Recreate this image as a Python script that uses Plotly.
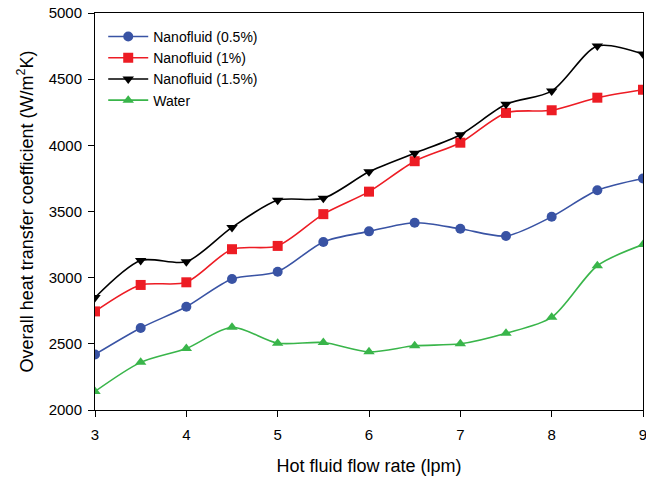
import plotly.graph_objects as go

flow = [3, 3.5, 4, 4.5, 5, 5.5, 6, 6.5, 7, 7.5, 8, 8.5, 9]
nano_05 = [2420, 2620, 2780, 2990, 3045, 3270, 3350, 3415, 3370, 3315, 3460, 3660, 3750]
nano_1 = [2745, 2945, 2965, 3215, 3240, 3480, 3650, 3880, 4020, 4245, 4265, 4360, 4420]
nano_15 = [2850, 3130, 3120, 3380, 3585, 3600, 3800, 3940, 4080, 4310, 4410, 4750, 4690]
water = [2140, 2360, 2465, 2625, 2505, 2510, 2440, 2485, 2500, 2580, 2700, 3090, 3250]

series = [
    ("Nanofluid (0.5%)", nano_05, "#3953a4", "circle"),
    ("Nanofluid (1%)", nano_1, "#ed1c24", "square"),
    ("Nanofluid (1.5%)", nano_15, "#000000", "triangle-down"),
    ("Water", water, "#39b54a", "triangle-up"),
]

fig = go.Figure()
for name, ys, col, sym in series:
    fig.add_trace(go.Scatter(
        x=flow, y=ys, name=name, mode="lines+markers",
        line=dict(color=col, width=1.6, shape="spline", smoothing=0.8),
        marker=dict(color=col, symbol=sym, size=10),
    ))

fig.update_layout(
    width=646, height=477,
    margin=dict(l=95, r=3, t=13, b=67),
    plot_bgcolor="white", paper_bgcolor="white",
    font=dict(family="Liberation Sans, Arial, sans-serif", size=15, color="black"),
    showlegend=True,
    legend=dict(x=0.015, y=0.98, xanchor="left", yanchor="top",
                bgcolor="rgba(0,0,0,0)", font=dict(size=14),
                tracegroupgap=0, itemwidth=40),
)
fig.update_xaxes(
    range=[3, 9], dtick=1, tick0=3, showgrid=False, zeroline=False,
    showline=True, linecolor="black", linewidth=1, mirror=True,
    ticks="outside", ticklen=6, tickcolor="black", ticklabelstandoff=5,
    automargin=False, ticklabeloverflow="allow",
    title=dict(text="Hot fluid flow rate (lpm)", font=dict(size=18), standoff=17),
)
fig.update_yaxes(
    range=[2000, 5000], dtick=500, showgrid=False, zeroline=False,
    showline=True, linecolor="black", linewidth=1, mirror=True,
    ticks="outside", ticklen=6, tickcolor="black", ticklabelstandoff=3,
    automargin=False, ticklabeloverflow="allow",
    title=dict(text="Overall heat transfer coefficient (W/m<sup>2</sup>K)", font=dict(size=18), standoff=10),
)

fig.write_html(
    "out.html",
    config={"displayModeBar": False},
    post_script="document.body.style.margin='0';document.body.style.overflow='hidden';",
)
